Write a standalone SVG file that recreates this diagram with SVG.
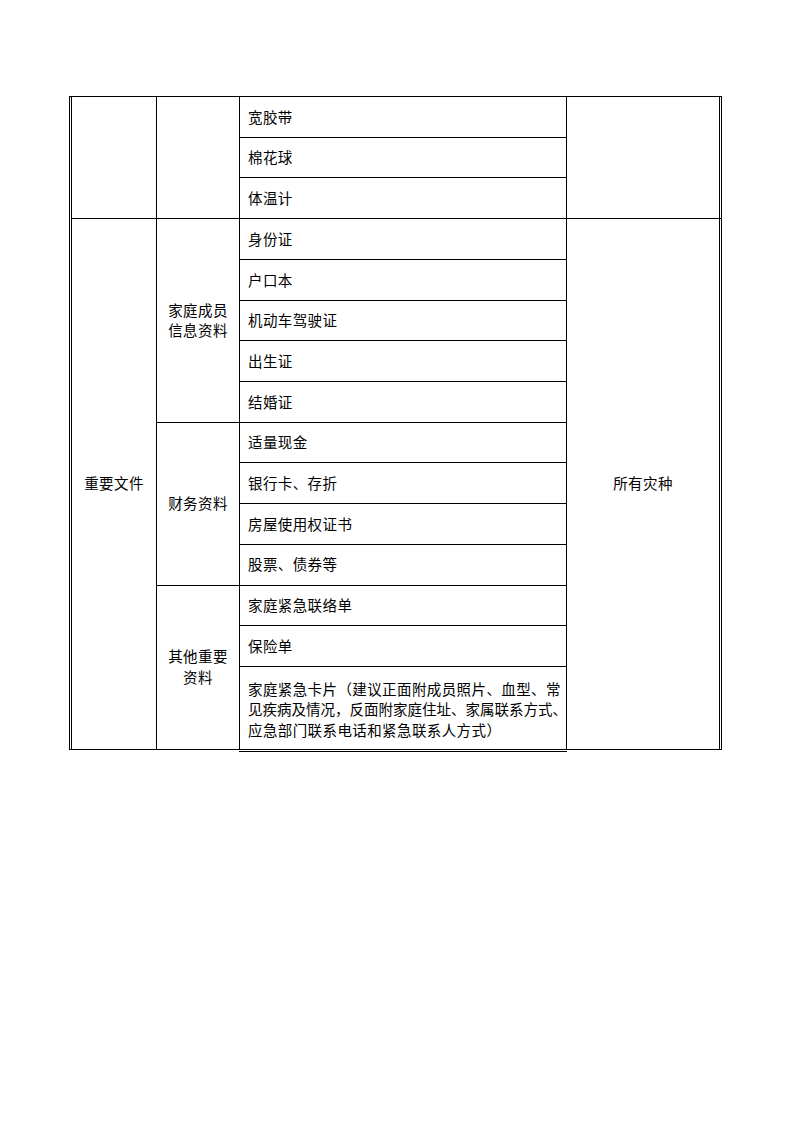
<svg xmlns="http://www.w3.org/2000/svg" width="794" height="1123" viewBox="0 0 794 1123">
<style>
.ln{stroke:#000;stroke-width:1;fill:none;shape-rendering:crispEdges}
.t{font-family:"Noto Sans CJK SC","Liberation Sans",sans-serif;font-size:14.5px;letter-spacing:0.4px;fill:#000;dominant-baseline:central}
.c{text-anchor:middle}
.n{letter-spacing:0}
</style>
<rect width="794" height="1123" fill="#fff"/>
<g id="grid" class="ln">
<path d="M69 96.5H722M71 218.5H722M69 749.5H722M239 751.5H567"/>
<path d="M69.5 96V750M71.5 96V750M156.5 96V750M239.5 96V750M566.5 96V750M719.5 96V750M721.5 96V750"/>
<path d="M239 137.5H567M239 177.5H567M239 259.5H567M239 300.5H567M239 340.5H567M239 381.5H567M239 462.5H567M239 503.5H567M239 544.5H567M239 625.5H567M239 666.5H567"/>
<path d="M156 422.5H567M156 585.5H567"/>
</g>
<g id="cat-important"><text class="t c" x="114" y="482">重要文件</text></g>
<g id="scope-all"><text class="t c" x="643" y="482">所有灾种</text></g>
<g id="sub-family"><text class="t c" x="198" y="309">家庭成员</text><text class="t c" x="198" y="329.5">信息资料</text></g>
<g id="sub-finance"><text class="t c" x="198" y="502">财务资料</text></g>
<g id="sub-other"><text class="t c" x="198" y="655.5">其他重要</text><text class="t c" x="198" y="676">资料</text></g>
<g id="items">
<text class="t" x="248" y="116">宽胶带</text>
<text class="t" x="248" y="156.5">棉花球</text>
<text class="t" x="248" y="197">体温计</text>
<text class="t" x="248" y="238">身份证</text>
<text class="t" x="248" y="279">户口本</text>
<text class="t" x="248" y="319.5">机动车驾驶证</text>
<text class="t" x="248" y="360">出生证</text>
<text class="t" x="248" y="401">结婚证</text>
<text class="t" x="248" y="441">适量现金</text>
<text class="t" x="248" y="482">银行卡、存折</text>
<text class="t" x="248" y="523">房屋使用权证书</text>
<text class="t" x="248" y="563.5">股票、债券等</text>
<text class="t" x="248" y="604">家庭紧急联络单</text>
<text class="t" x="248" y="645">保险单</text>
<text class="t" x="248" y="688">家庭紧急卡片（建议正面附成员照片、血型、常</text>
<text class="t n" x="248" y="708.5">见疾病及情况，反面附家庭住址、家属联系方式、</text>
<text class="t" x="248" y="729">应急部门联系电话和紧急联系人方式）</text>
</g>
</svg>
